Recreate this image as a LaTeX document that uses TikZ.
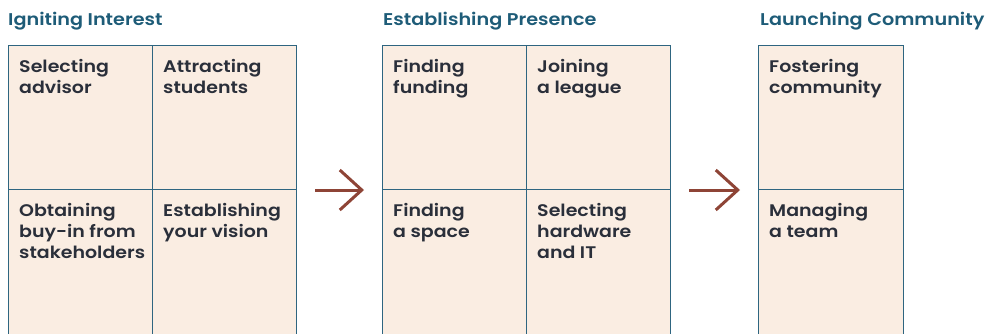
\documentclass[tikz,border=0pt]{standalone}
\usepackage{fontspec}
\setmainfont{Poppins}[FakeStretch=1.13, BoldFont={Poppins SemiBold}]
\usetikzlibrary{arrows.meta}
\definecolor{bordc}{HTML}{2E6580}
\definecolor{cellc}{HTML}{FAEDE2}
\definecolor{txtc}{HTML}{2A2F3A}
\definecolor{titc}{HTML}{1E5C78}
\definecolor{arrc}{HTML}{8E4436}
\begin{document}
\begin{tikzpicture}[x=1pt,y=-1pt,
  cell/.style={draw=bordc, fill=cellc, line width=1pt, minimum width=144pt, minimum height=144pt, inner sep=0pt, anchor=north west},
  lowcell/.style={cell, minimum height=170pt},
  txt/.style={anchor=north west, inner sep=0pt, align=left, text=txtc, font=\fontsize{16.8}{21}\selectfont\bfseries},
  title/.style={anchor=base west, inner sep=0pt, text=titc, font=\fontsize{17}{18}\selectfont\bfseries},
  arr/.style={draw=arrc, line width=3pt, -{Straight Barb[length=22pt,width=40pt]}, shorten <=18pt, shorten >=18pt}
]
\useasboundingbox (0,0) rectangle (985,333);
\clip (0,0) rectangle (985,333);
\fill[white] (0,0) rectangle (985,333);
% titles
\node[title] (t1) at (8,25.5) {Igniting Interest};
\node[title] (t2) at (383,25.5) {Establishing Presence};
\node[title] (t3) at (760,25.5) {Launching Community};
% group 1
\node[cell] (a1) at (8,45) {};
\node[cell] (b1) at (152,45) {};
\node[lowcell] (c1) at (8,189) {};
\node[lowcell] (d1) at (152,189) {};
% group 2
\node[cell] (a2) at (382,45) {};
\node[cell] (b2) at (526,45) {};
\node[lowcell] (c2) at (382,189) {};
\node[lowcell] (d2) at (526,189) {};
% group 3
\node[cell, minimum width=145pt] (a3) at (758,45) {};
\node[lowcell, minimum width=145pt] (c3) at (758,189) {};
% texts
\node[txt] (ta1) at ([xshift=11pt,yshift=-14pt]a1.north west) {Selecting\\advisor};
\node[txt] (tb1) at ([xshift=11pt,yshift=-14pt]b1.north west) {Attracting\\students};
\node[txt] (tc1) at ([xshift=11pt,yshift=-14pt]c1.north west) {Obtaining\\buy-in from\\stakeholders};
\node[txt] (td1) at ([xshift=11pt,yshift=-14pt]d1.north west) {Establishing\\your vision};
\node[txt] (ta2) at ([xshift=11pt,yshift=-14pt]a2.north west) {Finding\\funding};
\node[txt] (tb2) at ([xshift=11pt,yshift=-14pt]b2.north west) {Joining\\a league};
\node[txt] (tc2) at ([xshift=11pt,yshift=-14pt]c2.north west) {Finding\\a space};
\node[txt] (td2) at ([xshift=11pt,yshift=-14pt]d2.north west) {Selecting\\hardware\\and IT};
\node[txt] (ta3) at ([xshift=11pt,yshift=-14pt]a3.north west) {Fostering\\community};
\node[txt] (tc3) at ([xshift=11pt,yshift=-14pt]c3.north west) {Managing\\a team};
% arrows
\draw[arr] (b1.south east) -- (a2.south west);
\draw[arr] (b2.south east) -- (a3.south west);
\end{tikzpicture}
\end{document}
